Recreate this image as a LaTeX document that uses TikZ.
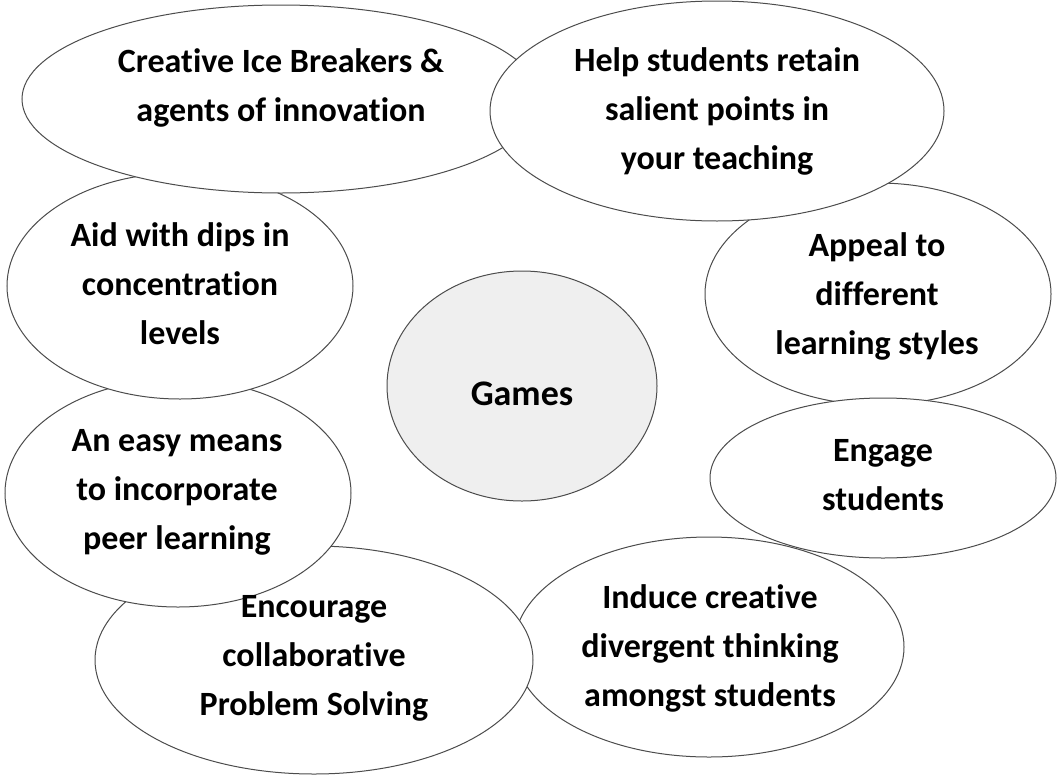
\documentclass[tikz,border=0pt]{standalone}
\usepackage{fontspec}
\setmainfont{Carlito}[Ligatures=NoCommon]
\usetikzlibrary{shapes.geometric}
\definecolor{gamesgray}{RGB}{239,239,239}

\begin{document}
\begin{tikzpicture}[x=0.5pt,y=-0.5pt,
	bubble/.style={ellipse,draw=black!70,line width=0.5pt,fill=white,inner sep=0pt},
	words/.style={align=center,inner sep=0pt,font=\bfseries\fontsize{17}{24.5}\selectfont}]
	\useasboundingbox (0,0) rectangle (1058,776);
	% shapes, back to front
	\node[bubble,minimum width=195pt,minimum height=110pt] (induce) at (709,647) {};
	\node[bubble,minimum width=219pt,minimum height=114pt] (encourage) at (314,660) {};
	\node[bubble,minimum width=173pt,minimum height=114pt] (easy) at (178,493) {};
	\node[bubble,minimum width=173pt,minimum height=113pt] (aid) at (180,286) {};
	\node[bubble,minimum width=259pt,minimum height=94pt] (creative) at (281,99) {};
	\node[bubble,minimum width=173pt,minimum height=111pt] (appeal) at (878,294) {};
	\node[bubble,minimum width=227pt,minimum height=110pt] (help) at (717,111) {};
	\node[bubble,minimum width=173pt,minimum height=80pt] (engage) at (883,478) {};
	\node[bubble,fill=gamesgray,minimum width=135pt,minimum height=115pt] (games) at (522,386) {};
	% texts
	\node[words] (creative-t) at (281,88) {Creative Ice Breakers \&\\agents of innovation};
	\node[words] (help-t) at (717,111) {Help students retain\\salient points in\\your teaching};
	\node[words] (aid-t) at (180,284) {Aid with dips in\\concentration\\levels};
	\node[words] (appeal-t) at (877,296) {Appeal to\\different\\learning styles};
	\node[words,font=\bfseries\fontsize{18}{24.5}\selectfont] (games-t) at (522,394) {Games};
	\node[words] (easy-t) at (177,492) {An easy means\\to incorporate\\peer learning};
	\node[words] (engage-t) at (883,475) {Engage\\students};
	\node[words] (encourage-t) at (314,658) {Encourage\\collaborative\\Problem Solving};
	\node[words] (induce-t) at (710,648) {Induce creative\\divergent thinking\\amongst students};
\end{tikzpicture}
\end{document}
